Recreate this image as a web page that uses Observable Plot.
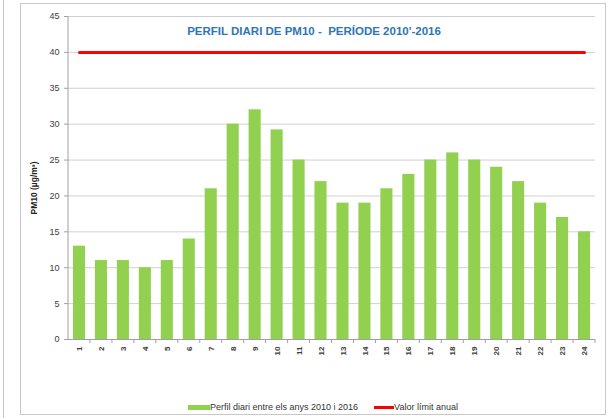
<!DOCTYPE html>
<html><head><meta charset="utf-8">
<script src="https://cdn.jsdelivr.net/npm/d3@7"></script>
<script src="https://cdn.jsdelivr.net/npm/@observablehq/plot@0.6"></script>
<style>
body{margin:0;background:#fff;font-family:"Liberation Sans",Arial,sans-serif;}
#wrap{position:relative;width:614px;height:418px;overflow:hidden;}
#frame{position:absolute;left:20px;top:3px;width:584px;height:410px;border:1px solid #c8c8c8;}
#side{position:absolute;left:3px;top:0;width:0;height:418px;border-left:1px solid #c8c8c8;}
#title{position:absolute;left:0;width:614px;top:25px;text-align:center;color:#2e75b6;font-weight:bold;font-size:11.5px;padding-left:14px;box-sizing:border-box;}
#legend{position:absolute;top:402px;left:188px;white-space:nowrap;font-size:9px;color:#333;}
#legend span.sw{display:inline-block;vertical-align:middle;}
#chart{position:absolute;left:0;top:0;}
</style></head>
<body>
<div id="wrap">
<div id="side"></div>
<div id="frame"></div>
<div id="chart"></div>
<div id="title">PERFIL DIARI DE PM10 -&nbsp; PERÍODE 2010'-2016</div>
<div id="legend"><span class="sw" style="width:22px;height:5px;background:#92d050;"></span>Perfil diari entre els anys 2010 i 2016<span class="sw" style="width:20px;height:3px;background:#ff0000;margin-left:16px;"></span>Valor límit anual</div>
</div>
<script>
const hours = [1,2,3,4,5,6,7,8,9,10,11,12,13,14,15,16,17,18,19,20,21,22,23,24];
const pm10 = [13,11,11,10,11,14,21,30,32,29.2,25,22,19,19,21,23,25,26,25,24,22,19,17,15];
const limitValue = 40;
const yTicks = [0,5,10,15,20,25,30,35,40,45];

const barData = hours.map((h,i)=>({hour:h, value:pm10[i]}));
const limitData = hours.map(h=>({hour:h, value:limitValue}));

const chart = Plot.plot({
  width:614, height:390,
  marginLeft:68, marginRight:19, marginTop:16, marginBottom:51,
  style:{fontFamily:"'Liberation Sans', Arial, sans-serif", fontSize:"9px", color:"#404040", background:"transparent"},
  x:{type:"band", domain:hours, paddingInner:0.45, paddingOuter:0.225, round:false, label:null},
  y:{domain:[0,45], label:"PM10 (µg/m³)"},
  marks:[
    Plot.gridY(yTicks, {stroke:"#d0d0d0", strokeOpacity:1, strokeWidth:1}),
    Plot.barY(barData, {x:"hour", y:"value", fill:"#92d050"}),
    Plot.lineY(limitData, {x:"hour", y:"value", stroke:"#ff0000", strokeWidth:3}),
    Plot.ruleY([0], {stroke:"#a0a0a0"}),
    Plot.axisY({ticks:yTicks, tickSize:4, stroke:"#a0a0a0", tickPadding:5, label:"PM10 (µg/m³)", labelAnchor:"center", labelArrow:"none", labelOffset:38}),
    Plot.axisX({tickRotate:-90, tickSize:0, tickPadding:7, label:null, fontWeight:"bold", fontSize:8})
  ]
});
document.getElementById("chart").appendChild(chart);
const svg = d3.select(chart);
svg.selectAll("[aria-label='y-axis label'] text").style("font-weight","bold").style("font-size","8.5px").style("fill","#222").attr("dx","-10");
svg.append("line").attr("x1",68).attr("x2",68).attr("y1",16).attr("y2",339).attr("stroke","#a0a0a0");
// category separator ticks below the baseline (between bands, as in the original)
const xs = chart.scale("x");
const y0 = chart.scale("y").apply(0);
hours.forEach(h=>{
  const xr = xs.apply(h) + xs.bandwidth + (xs.step - xs.bandwidth)/2;
  svg.append("line").attr("x1",xr).attr("x2",xr).attr("y1",y0).attr("y2",y0+4).attr("stroke","#a0a0a0");
});
</script>
</body></html>
